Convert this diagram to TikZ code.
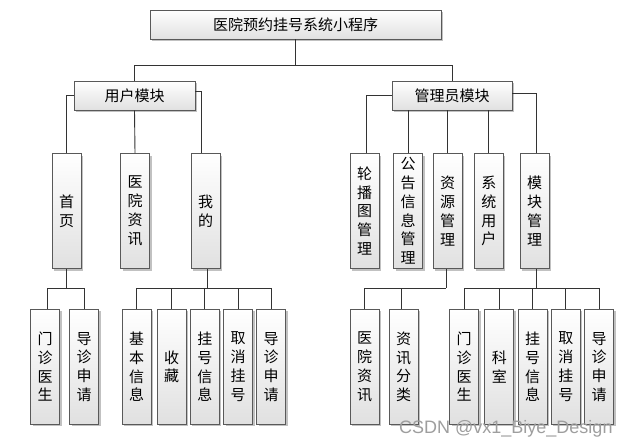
\documentclass[tikz,border=0pt]{standalone}
\usepackage{fontspec}
\setmainfont{Noto Sans CJK SC}
\newfontfamily\wmfont{Liberation Sans}
\usetikzlibrary{shadows}
\begin{document}
\begin{tikzpicture}[x=1pt,y=-1pt,
  box/.style={draw=black!65, line width=0.8pt, top color=white, bottom color=black!12,
    drop shadow={shadow xshift=2pt, shadow yshift=-2pt, fill=black!30, opacity=0.8},
    inner sep=0pt, font=\fontsize{15}{18.8}\selectfont, align=center},
  hbox/.style={box, minimum height=29pt},
  vbox/.style={box, minimum width=29pt, minimum height=115pt},
  conn/.style={draw=black!80, line width=0.9pt}]
\useasboundingbox (0,0) rectangle (631,447);
\fill[white] (0,0) rectangle (631,447);
% root and modules
\node[hbox, minimum width=291pt] (root) at (295.5,24.5) {医院预约挂号系统小程序};
\node[hbox, minimum width=121pt] (user) at (134.5,95.5) {用户模块};
\node[hbox, minimum width=120pt] (admin) at (452,95.5) {管理员模块};
\coordinate (bus0) at (0,65);
% user row 1
\node[vbox] (sy) at (66.5,211) {首\\页};
\node[vbox] (yyzx) at (135,211) {医\\院\\资\\讯};
\node[vbox] (wd) at (205.5,211) {我\\的};
% admin row 1
\node[vbox] (lbt) at (364.7,211) {轮\\播\\图\\管\\理};
\node[vbox] (gg) at (408.2,211) {公\\告\\信\\息\\管\\理};
\node[vbox] (zy) at (447.7,211) {资\\源\\管\\理};
\node[vbox] (xt) at (488.8,211) {系\\统\\用\\户};
\node[vbox] (mk) at (534.7,211) {模\\块\\管\\理};
\coordinate (bus2) at (0,288.3);
% row 2 user
\node[vbox] (a1) at (45.2,366.8) {门\\诊\\医\\生};
\node[vbox] (a2) at (84.2,366.8) {导\\诊\\申\\请};
\node[vbox] (b1) at (136.5,366.8) {基\\本\\信\\息};
\node[vbox] (b2) at (171.7,366.8) {收\\藏};
\node[vbox] (b3) at (204.8,366.8) {挂\\号\\信\\息};
\node[vbox] (b4) at (238.2,366.8) {取\\消\\挂\\号};
\node[vbox] (b5) at (271.2,366.8) {导\\诊\\申\\请};
% row 2 admin
\node[vbox] (c1) at (364.7,366.8) {医\\院\\资\\讯};
\node[vbox] (c2) at (403.5,366.8) {资\\讯\\分\\类};
\node[vbox] (d1) at (464.2,366.8) {门\\诊\\医\\生};
\node[vbox] (d2) at (499.3,366.8) {科\\室};
\node[vbox] (d3) at (532.7,366.8) {挂\\号\\信\\息};
\node[vbox] (d4) at (565.8,366.8) {取\\消\\挂\\号};
\node[vbox] (d5) at (599.2,366.8) {导\\诊\\申\\请};
% connectors level 1
\draw[conn] (root.south) -- (root.south |- bus0);
\draw[conn] (user.north |- bus0) -- (admin.north |- bus0);
\draw[conn] (user.north |- bus0) -- (user.north);
\draw[conn] (admin.north |- bus0) -- (admin.north);
% user module
\draw[conn] (user.west) -| (sy.north);
\draw[conn] (user.south) -- (yyzx.north);
\draw[conn] ([yshift=4.5pt]user.east) -| ([xshift=-4.5pt]wd.north);
% admin module
\draw[conn] (admin.west) -| ([xshift=2pt]lbt.north);
\draw[conn] (admin.south -| gg.north) -- (gg.north);
\draw[conn] (admin.south -| zy.north) -- (zy.north);
\draw[conn] (admin.south -| xt.north) -- (xt.north);
\draw[conn] ([yshift=2pt]admin.east) -| ([xshift=2pt]mk.north);
% row 2 user
\draw[conn] (sy.south) -- (sy.south |- bus2);
\draw[conn] ([xshift=2.5pt]a1.north |- bus2) -- (a2.north |- bus2);
\draw[conn] ([xshift=2.5pt]a1.north |- bus2) -- ([xshift=2.5pt]a1.north);
\draw[conn] (a2.north |- bus2) -- (a2.north);
\draw[conn] ([xshift=2pt]wd.south) -- ([xshift=2pt]wd.south |- bus2);
\draw[conn] (b1.north |- bus2) -- (b5.north |- bus2);
\foreach \n in {b1,b2,b3,b4,b5} \draw[conn] (\n.north |- bus2) -- (\n.north);
% row 2 admin
\draw[conn] ([xshift=-1.5pt]zy.south) -- ([xshift=-1.5pt]zy.south |- bus2);
\draw[conn] (c1.north |- bus2) -- ([xshift=-1.5pt]zy.south |- bus2);
\draw[conn] (c1.north |- bus2) -- (c1.north);
\draw[conn] ([xshift=-2pt]c2.north |- bus2) -- ([xshift=-2pt]c2.north);
\draw[conn] ([xshift=2pt]mk.south) -- ([xshift=2pt]mk.south |- bus2);
\draw[conn] (d1.north |- bus2) -- (d5.north |- bus2);
\foreach \n in {d1,d2,d3,d4,d5} \draw[conn] (\n.north |- bus2) -- (\n.north);
% watermark
\node[font=\wmfont\fontsize{18}{18}\selectfont, text=black!38, anchor=base west, inner sep=0pt] (wm) at (399,433) {CSDN @vx1\_Biye\_Design};
\end{tikzpicture}
\end{document}
